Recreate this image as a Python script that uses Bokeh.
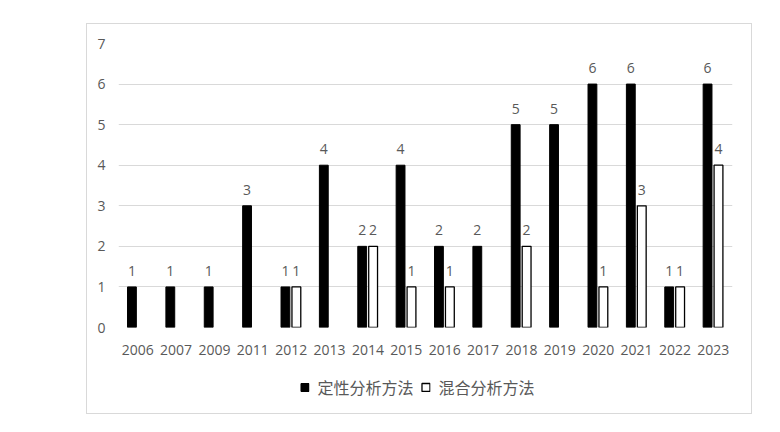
from bokeh.plotting import figure
from bokeh.models import ColumnDataSource, FactorRange, FixedTicker, Legend, LegendItem, Spacer, Range1d
from bokeh.layouts import column, row
from bokeh.transform import dodge
from bokeh.core.properties import value
from bokeh.embed import file_html
from bokeh.resources import INLINE

years = ["2006", "2007", "2009", "2011", "2012", "2013", "2014", "2015",
         "2016", "2017", "2018", "2019", "2020", "2021", "2022", "2023"]
qualitative = [1, 1, 1, 3, 1, 4, 2, 4, 2, 2, 5, 5, 6, 6, 1, 6]
mixed = [0, 0, 0, 0, 1, 0, 2, 1, 1, 0, 2, 0, 1, 3, 1, 4]
y_ticks = [0, 1, 2, 3, 4, 5, 6, 7]
series_names = ["定性分析方法", "混合分析方法"]

q_src = ColumnDataSource(dict(x=[y for y, v in zip(years, qualitative) if v > 0],
                              v=[v for v in qualitative if v > 0],
                              t=[str(v) for v in qualitative if v > 0]))
m_src = ColumnDataSource(dict(x=[y for y, v in zip(years, mixed) if v > 0],
                              v=[v for v in mixed if v > 0],
                              t=[str(v) for v in mixed if v > 0]))

BOX_W = 668
P_H = 337
L_H = 56

p = figure(width=BOX_W, height=P_H, x_range=FactorRange(*years, range_padding=0),
           y_range=(0, 7), output_backend="svg", toolbar_location=None,
           min_border_left=33, min_border_right=21, min_border_top=21, min_border_bottom=32)
p.outline_line_color = None
p.background_fill_color = None
p.border_fill_color = None

OFF_Q = -0.15
OFF_M = 0.135
W = 0.23

rq = p.vbar(x=dodge("x", OFF_Q, range=p.x_range), top="v", bottom=0, width=W,
            source=q_src, fill_color="black", line_color="black")
rm = p.vbar(x=dodge("x", OFF_M, range=p.x_range), top="v", bottom=0, width=W,
            source=m_src, fill_color="white", line_color="black", line_width=1.3)

for src, off in ((q_src, OFF_Q), (m_src, OFF_M)):
    p.text(x=dodge("x", off, range=p.x_range), y="v", text="t", source=src,
           text_align="center", text_baseline="bottom", y_offset=-11,
           text_font=value("Open Sans"), text_font_size="14px", text_color="#595959")

p.yaxis.ticker = FixedTicker(ticks=y_ticks)
p.ygrid.ticker = FixedTicker(ticks=y_ticks)
p.ygrid.grid_line_color = "#d9d9d9"
p.ygrid.grid_line_width = 1.2
p.xgrid.grid_line_color = None

for ax in (p.xaxis[0], p.yaxis[0]):
    ax.axis_line_color = None
    ax.major_tick_line_color = None
    ax.minor_tick_line_color = None
    ax.major_label_text_font = "Open Sans"
    ax.major_label_text_font_size = "14px"
    ax.major_label_text_color = "#595959"
p.xaxis.major_label_standoff = 11
p.yaxis.major_label_standoff = 7

# legend strip below the chart (same series, hidden renderers, only for the legend)
lp = figure(width=BOX_W - 16, height=L_H, x_range=FactorRange(*years, range_padding=0),
            y_range=Range1d(0, 7), output_backend="svg", toolbar_location=None,
            x_axis_type=None, y_axis_type=None, min_border=0)
lp.outline_line_color = None
lp.grid.grid_line_color = None
lp.background_fill_color = None
lp.border_fill_color = None
lq = lp.vbar(x=dodge("x", OFF_Q, range=lp.x_range), top="v", bottom=0, width=W,
             source=q_src, fill_color="black", line_color="black")
lm = lp.vbar(x=dodge("x", OFF_M, range=lp.x_range), top="v", bottom=0, width=W,
             source=m_src, fill_color="white", line_color="black", line_width=1.3)
lq.visible = False
lm.visible = False

legend = Legend(items=[LegendItem(label=series_names[0], renderers=[lq]),
                       LegendItem(label=series_names[1], renderers=[lm])],
                orientation="horizontal", location="center",
                glyph_width=10, glyph_height=10, label_standoff=8, spacing=7,
                label_text_font="Noto Sans CJK SC", label_text_font_size="16px",
                label_text_color="#595959", border_line_color=None,
                background_fill_alpha=0, inactive_fill_alpha=0,
                margin=0, padding=4)
lp.add_layout(legend, "center")

box = column(p, lp, spacing=0, width=BOX_W,
             styles={"background-color": "white",
                     "outline": "1.5px solid #d9d9d9", "outline-offset": "-2px"})
layout = column(Spacer(width=1, height=22),
                row(Spacer(width=85, height=1), box, spacing=0),
                spacing=0)

open("out.html", "w").write(file_html(layout, INLINE))
